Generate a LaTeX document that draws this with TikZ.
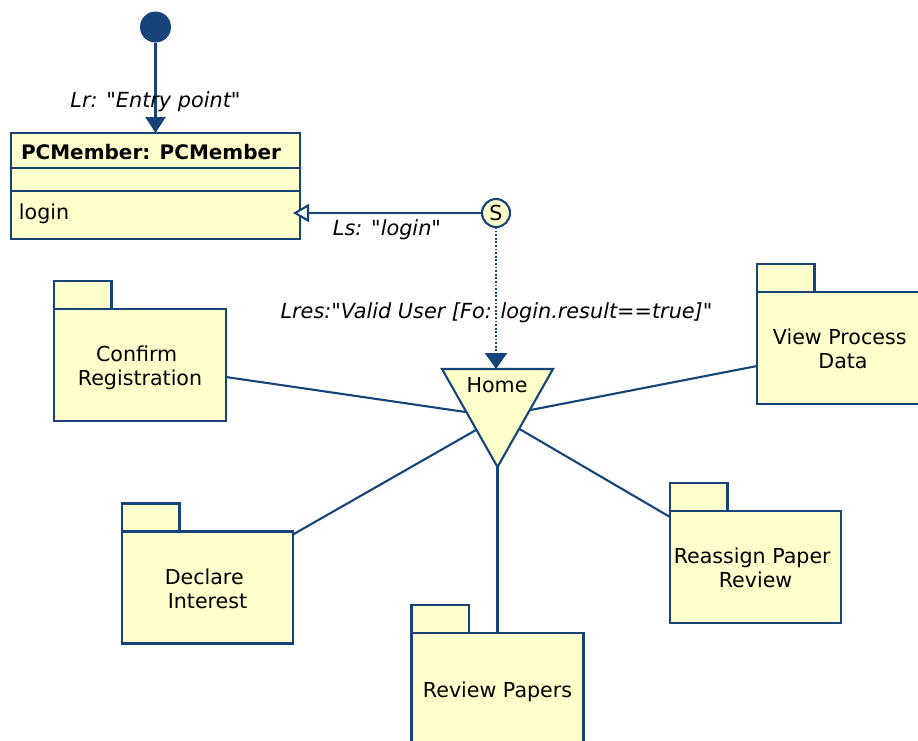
\documentclass[tikz,border=0pt]{standalone}
\usepackage{fontspec}
\setmainfont{DejaVu Sans}[Ligatures=TeXOff]
\usetikzlibrary{arrows.meta,calc}
\definecolor{umlblue}{RGB}{22,67,120}
\definecolor{umlfill}{RGB}{255,255,204}
\begin{document}
\begin{tikzpicture}[x=1pt,y=-1pt,
  every node/.style={font=\fontsize{20.6}{24}\selectfont, inner sep=0pt, outer sep=0pt},
  edge/.style={draw=umlblue, line width=2.1pt},
  box/.style={draw=umlblue, fill=umlfill, line width=2.1pt},
  pkgbody/.style={box, minimum width=172pt, minimum height=112pt},
  pkgtab/.style={box, minimum width=57.5pt, minimum height=28pt, anchor=south west},
  pkgtext/.style={align=center, yshift=-3.5pt,
    execute at begin node=\rule{0pt}{15.5pt},
    execute at end node=\rule[-5pt]{0pt}{5pt}},
  lbl/.style={font=\fontsize{20.8}{24}\selectfont\itshape, anchor=base},
]
\clip (0,0) rectangle (918,740);

% start state and the PCMember class
\node[circle, fill=umlblue, minimum size=31pt] (init) at (155.5,27) {};
\node[box, minimum width=289pt, minimum height=106pt] (pcm) at (155.5,186) {};
\draw[edge] ($(pcm.north west)+(0,35)$) -- ($(pcm.north east)+(0,35)$);
\draw[edge] ($(pcm.north west)+(0,58)$) -- ($(pcm.north east)+(0,58)$);
\node[anchor=base west, font=\fontsize{20}{24}\selectfont\bfseries] (pcmname) at (21,159.5) {PCMember: PCMember};
\node[anchor=base west] (pcmop) at (19,219.5) {login};

\draw[edge, -{Triangle[width=20pt,length=16pt]}] (init) -- (pcm.north);
\node[lbl] (lr) at (155.5,107) {Lr: "Entry point"};

% send node
\node[circle, box, minimum size=28pt] (s) at (496,213) {S};
\draw[edge, -{Triangle[open, fill=white, width=18pt, length=16pt]}, shorten >=-7pt] (s) -- (s -| pcm.east);
\node[lbl] (ls) at (387,235) {Ls: "login"};

% packages
\node[pkgbody] (confirm) at (140,365) {};
\node[pkgtab] (confirmtab) at (confirm.north west) {};
\node[pkgtext] at (confirm) {Confirm\kern.32em\\Registration};

\node[pkgbody] (view) at (843,348) {};
\node[pkgtab] (viewtab) at (view.north west) {};
\node[pkgtext] at (view) {View Process\kern.32em\\Data};

\node[pkgbody, minimum width=171pt] (declare) at (207.5,587.5) {};
\node[pkgtab] (declaretab) at (declare.north west) {};
\node[pkgtext] at (declare) {Declare\kern.32em\\Interest};

\node[pkgbody, minimum width=171pt] (reassign) at (755.5,567) {};
\node[pkgtab] (reassigntab) at (reassign.north west) {};
\node[pkgtext] at (reassign) {Reassign Paper\kern.32em\\Review};

\node[pkgbody] (review) at (497.5,689) {};
\node[pkgtab] (reviewtab) at (review.north west) {};
\node[pkgtext] at (review) {Review Papers};

% Home landmark (inverted triangle)
\coordinate (hL) at (442,369);
\coordinate (hR) at (553,369);
\coordinate (hB) at (497.5,467);
\coordinate (hT) at ($(hL)!0.5!(hR)$);

\draw[edge] ($(confirm.east)+(0,12)$) -- ($(hL)!0.44!(hB)$);
\draw[edge] ($(view.west)+(0,18)$) -- ($(hR)!0.42!(hB)$);
\draw[edge] ($(declare.north east)+(0,3)$) -- ($(hL)!0.62!(hB)$);
\draw[edge] ($(reassign.north west)+(0,6)$) -- ($(hR)!0.61!(hB)$);
\draw[edge] (hB) -- (hB |- review.north);

\draw[edge, fill=umlfill, line join=miter] (hL) -- (hR) -- (hB) -- cycle;
\node[anchor=base] (home) at (497,392) {Home};

\draw[edge, dash pattern=on 1.8pt off 1.8pt, -{Triangle[width=22pt,length=16pt]}] (s) -- (s |- hT);
\node[lbl] (lres) at (496.5,318) {Lres:"Valid User [Fo: login.result==true]"};
\end{tikzpicture}
\end{document}
